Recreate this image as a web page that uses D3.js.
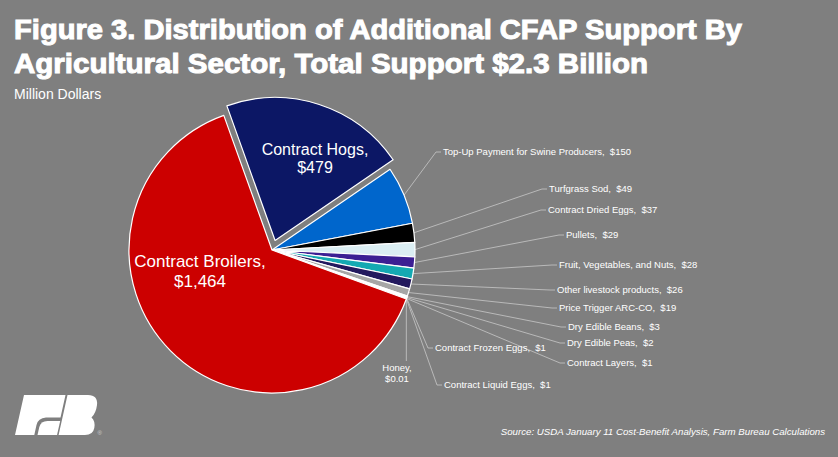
<!DOCTYPE html>
<html>
<head>
<meta charset="utf-8">
<script src="https://cdn.jsdelivr.net/npm/d3@7"></script>
<style>
  html, body { margin: 0; padding: 0; background: #7f7f7f; }
  svg { display: block; font-family: "Liberation Sans", Arial, sans-serif; }
  .lbl { fill: #fff; font-size: 9.5px; white-space: pre; }
</style>
</head>
<body>
<svg id="chart" width="838" height="457"></svg>
<script>
// sectors in drawing order (clockwise from Contract Hogs)
var sectors = ['Contract Hogs', 'Top-Up Payment for Swine Producers', 'Turfgrass Sod', 'Contract Dried Eggs',
  'Pullets', 'Fruit, Vegetables, and Nuts', 'Other livestock products', 'Price Trigger ARC-CO',
  'Dry Edible Beans', 'Dry Edible Peas', 'Contract Frozen Eggs', 'Contract Layers',
  'Contract Liquid Eggs', 'Honey', 'Contract Broilers'];
var support = [479, 150, 49, 37, 29, 28, 26, 19, 3, 2, 1, 1, 1, 0.01, 1464];
var colors = ['#0c1765', '#0066cc', '#000000', '#dbeef3', '#3c1f93', '#14a9b2', '#23195e', '#a6a6a6',
  '#d9d9d9', '#f2f2f2', '#ffffff', '#e0e0e0', '#ffffff', '#ffffff', '#cc0000'];

// label placement (text start x, baseline y) for the outside labels
var outside = {
  'Top-Up Payment for Swine Producers': [443, 155],
  'Turfgrass Sod': [549, 192],
  'Contract Dried Eggs': [548, 213],
  'Pullets': [566, 238],
  'Fruit, Vegetables, and Nuts': [559, 268],
  'Other livestock products': [557, 293],
  'Price Trigger ARC-CO': [559, 311],
  'Dry Edible Beans': [568, 330],
  'Dry Edible Peas': [567, 346],
  'Contract Frozen Eggs': [435, 351],
  'Contract Layers': [567, 366],
  'Contract Liquid Eggs': [444, 388]
};

var svg = d3.select('#chart');
var cx = 272, cy = 250, r = 143;
var start = -19.7 * Math.PI / 180;

function money(v){ return '$' + (v >= 1 ? d3.format(',')(v) : d3.format('.2f')(v)); }

// title
svg.append('text').attr('x', 14).attr('y', 39).text('Figure 3. Distribution of Additional CFAP Support By')
  .attr('textLength', 728).attr('lengthAdjust', 'spacingAndGlyphs')
  .style('font-size', '28px').style('font-weight', 'bold').style('fill', '#fff')
  .style('stroke', '#fff').style('stroke-width', 1);
svg.append('text').attr('x', 14).attr('y', 73).text('Agricultural Sector, Total Support $2.3 Billion')
  .attr('textLength', 634).attr('lengthAdjust', 'spacingAndGlyphs')
  .style('font-size', '28px').style('font-weight', 'bold').style('fill', '#fff')
  .style('stroke', '#fff').style('stroke-width', 1);
svg.append('text').attr('x', 14).attr('y', 99).text('Million Dollars')
  .style('font-size', '14px').style('fill', '#fff');

var pie = d3.pie().sort(null).value(function(d){ return d; })
  .startAngle(start).endAngle(start + 2 * Math.PI);
var arcs = pie(support);
var arc = d3.arc().innerRadius(0).outerRadius(r);

function mid(d){ return (d.startAngle + d.endAngle) / 2; }
function edge(d, rr){ var a = mid(d); return [cx + rr * Math.sin(a), cy - rr * Math.cos(a)]; }

var g = svg.append('g');

// leader lines
arcs.forEach(function(d, i){
  var name = sectors[i];
  var p = edge(d, r);
  if (outside[name]) {
    var pos = outside[name];
    g.append('polyline')
      .attr('points', [p, [pos[0] - 7, pos[1] - 3], [pos[0] - 2, pos[1] - 3]].map(String).join(' '))
      .attr('fill', 'none').attr('stroke', '#c8c8c8').attr('stroke-width', 0.8);
  } else if (name == 'Honey') {
    g.append('line').attr('x1', p[0]).attr('y1', p[1]).attr('x2', p[0]).attr('y2', 361)
      .attr('stroke', '#c8c8c8').attr('stroke-width', 0.8);
  }
});

// slices
g.selectAll('path.slice').data(arcs).enter().append('path')
  .attr('class', 'slice')
  .attr('d', arc)
  .attr('transform', function(d, i){
    var off = sectors[i] == 'Contract Hogs' ? 10 : 0;
    var a = mid(d);
    return 'translate(' + (cx + off * Math.sin(a)) + ',' + (cy - off * Math.cos(a)) + ')';
  })
  .attr('fill', function(d, i){ return colors[i]; })
  .attr('stroke', '#fff').attr('stroke-width', 1.2).attr('stroke-linejoin', 'round');

// outside labels
arcs.forEach(function(d, i){
  var name = sectors[i];
  if (outside[name]) {
    g.append('text').attr('class', 'lbl').attr('x', outside[name][0]).attr('y', outside[name][1])
      .text(name + ',  ' + money(support[i]));
  }
});

var hi = sectors.indexOf('Honey');
var honey = g.append('text').attr('class', 'lbl').attr('text-anchor', 'middle');
honey.append('tspan').attr('x', 397).attr('y', 371).text(sectors[hi] + ',');
honey.append('tspan').attr('x', 397).attr('y', 382).text(money(support[hi]));

// inside labels for the two large sectors
function bigLabel(name, x, y, size, gap){
  var i = sectors.indexOf(name);
  var t = g.append('text').attr('text-anchor', 'middle').style('fill', '#fff').style('font-size', size + 'px');
  t.append('tspan').attr('x', x).attr('y', y).text(name + ',');
  t.append('tspan').attr('x', x).attr('y', y + gap).text(money(support[i]));
}
bigLabel('Contract Hogs', 315, 155, 16, 18);
bigLabel('Contract Broilers', 200, 267, 17, 20);

// source note
svg.append('text').attr('x', 825).attr('y', 435).attr('text-anchor', 'end')
  .style('font-size', '9.7px').style('font-style', 'italic').style('fill', '#fff')
  .text('Source: USDA January 11 Cost-Benefit Analysis, Farm Bureau Calculations');

// Farm Bureau logo
var logo = svg.append('g').attr('fill', '#fff');
logo.append('path').attr('d', 'M24,395 L65.5,395 L60.5,417.5 L46,417.5 Q38,418 36.5,425 L34.3,435 L15,435 Z');
logo.append('path').attr('d', 'M47.5,421 L60.2,421 L57,435 L37.5,435 L39.3,427 Q40.8,421 47.5,421 Z');
logo.append('path').attr('d', 'M67.5,395 L88,395 Q98,395 97,405 Q96,413 91.5,417.5 Q95.5,421 94.3,428 Q93,435 85,435 L58.6,435 Z');
svg.append('text').attr('x', 97.5).attr('y', 435).style('font-size', '6px').style('fill', '#d0d0d0').text('®');
</script>
</body>
</html>
